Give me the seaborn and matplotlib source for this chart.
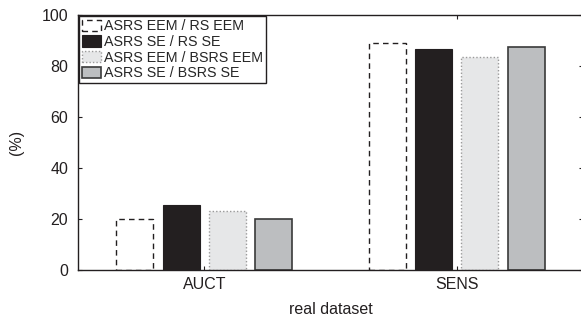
import matplotlib
matplotlib.use("Agg")
import matplotlib.pyplot as plt
import seaborn as sns
import pandas as pd

categories = ["AUCT", "SENS"]
series = ["ASRS EEM / RS EEM", "ASRS SE / RS SE", "ASRS EEM / BSRS EEM", "ASRS SE / BSRS SE"]
values = {
    "ASRS EEM / RS EEM": [20.0, 89.0],
    "ASRS SE / RS SE": [25.5, 86.5],
    "ASRS EEM / BSRS EEM": [23.0, 83.5],
    "ASRS SE / BSRS SE": [20.0, 87.3],
}
yticks = [0, 20, 40, 60, 80, 100]

rows = []
for s in series:
    for c, v in zip(categories, values[s]):
        rows.append({"category": c, "series": s, "value": v})
df = pd.DataFrame(rows)

sns.set_theme(style="white")
plt.rcParams["font.family"] = ["Liberation Sans", "DejaVu Sans"]

facecolors = ["#ffffff", "#231f20", "#e6e7e8", "#bcbec0"]
edgecolors = ["#231f20", "#231f20", "#9a9a9a", "#3a3a3a"]
linestyles = [(0, (4, 3)), "-", (0, (1, 1.5)), "-"]
linewidths = [1.0, 0.8, 1.0, 1.2]

fig = plt.figure(figsize=(5.81, 3.27), dpi=100)
ax = fig.add_axes([78 / 581, 1 - 270 / 327, (583 - 78) / 581, (270 - 15) / 327])

sns.barplot(data=df, x="category", y="value", hue="series", hue_order=series,
            order=categories, palette=facecolors, width=0.733, gap=0.2,
            saturation=1, ax=ax, legend=True)

for i, cont in enumerate(ax.containers):
    for p in cont:
        p.set_facecolor(facecolors[i])
        p.set_edgecolor(edgecolors[i])
        p.set_linestyle(linestyles[i])
        p.set_linewidth(linewidths[i])

ax.set_xlim(-0.5, 1.5)
ax.set_ylim(0, 100)
ax.set_yticks(yticks)
ax.set_yticklabels([str(t) for t in yticks])
ax.set_xlabel("real dataset", fontsize=11.5, color="#231f20", labelpad=7)
ax.set_ylabel("(%)", fontsize=11.5, color="#231f20", labelpad=13)

for sp in ax.spines.values():
    sp.set_visible(True)
    sp.set_color("#231f20")
    sp.set_linewidth(1.0)

ax.tick_params(axis="both", which="both", direction="in", length=3, width=0.8,
               color="#231f20", labelsize=11.5, labelcolor="#231f20",
               top=True, right=True, bottom=True, left=True)
ax.tick_params(axis="x", pad=5)
ax.tick_params(axis="y", pad=7)

handles, labels = ax.get_legend_handles_labels()
for i, h in enumerate(handles):
    h.set_facecolor(facecolors[i])
    h.set_edgecolor(edgecolors[i])
    h.set_linestyle(linestyles[i])
    h.set_linewidth(linewidths[i])
ax.legend(handles, labels, loc="upper left", bbox_to_anchor=(0.0, 1.0),
          fontsize=10.3, frameon=True, fancybox=False, edgecolor="#231f20",
          framealpha=1, borderpad=0.2, labelspacing=0.12, handlelength=1.3,
          handleheight=0.85, handletextpad=0.2, borderaxespad=0.1)
ax.get_legend().get_frame().set_linewidth(1.0)

fig.savefig("out.png", dpi=100)
